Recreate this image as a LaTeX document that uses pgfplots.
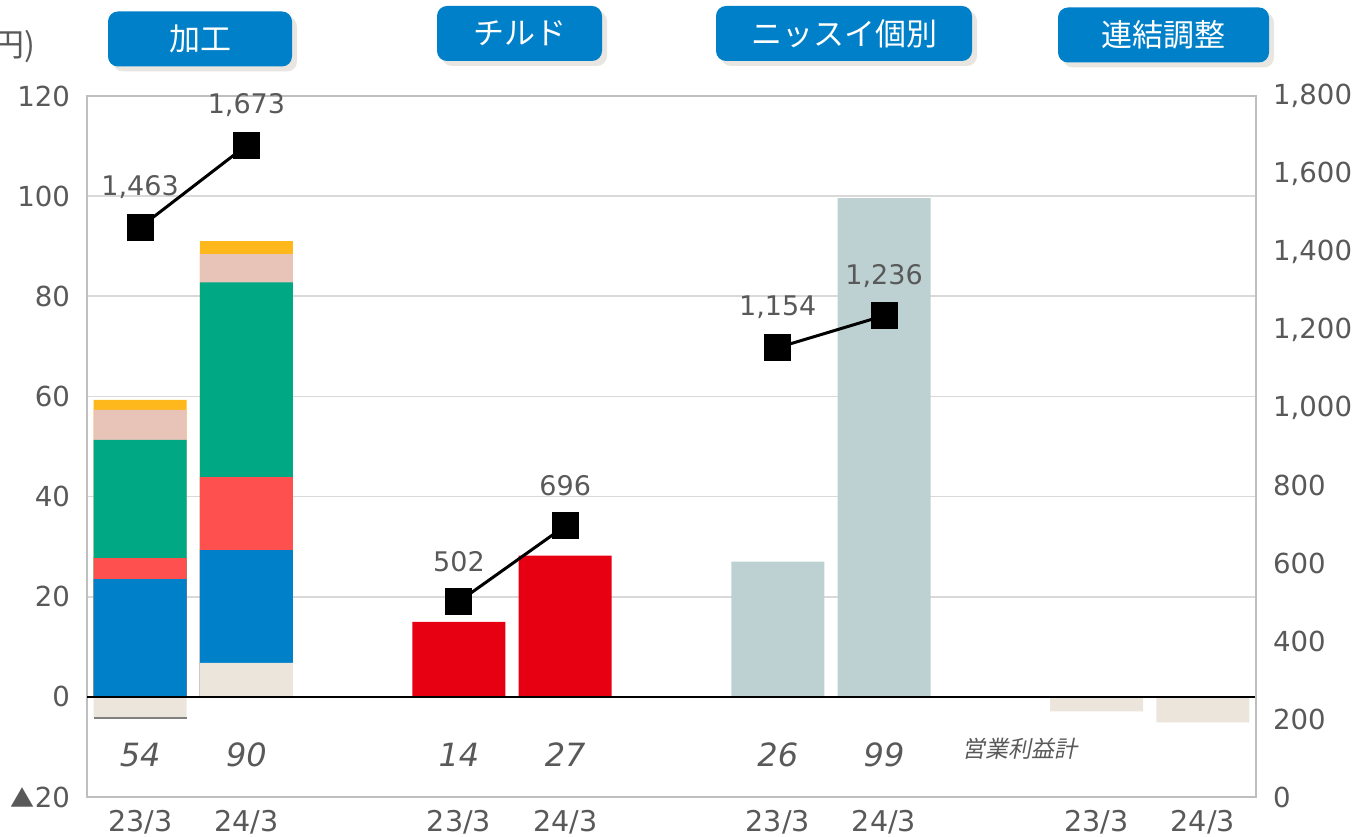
\documentclass[border=0pt]{standalone}
\usepackage{pgfplots}
\pgfplotsset{compat=1.18}
\usepackage{fontspec}
\setmainfont{Noto Sans CJK JP}
\newfontfamily\jpit{Noto Sans CJK JP}[FakeSlant=0.2]
\newfontfamily\jp{Noto Sans CJK JP}
\newfontfamily\num{DejaVu Sans}
\definecolor{tgray}{HTML}{595959}
\definecolor{gridgray}{HTML}{D9D9D9}
\definecolor{framegray}{HTML}{BFBFBF}
\definecolor{hblue}{HTML}{0080C8}
\definecolor{cblue}{HTML}{0080C8}
\definecolor{cred}{HTML}{FF5050}
\definecolor{cgreen}{HTML}{00A884}
\definecolor{cpink}{HTML}{E8C3B8}
\definecolor{cyellow}{HTML}{FFB81C}
\definecolor{cbeige}{HTML}{EBE5DC}
\definecolor{cchill}{HTML}{E60012}
\definecolor{cnissui}{HTML}{BDD1D3}
\definecolor{shadow}{HTML}{E9E6E1}
\begin{document}
\begin{tikzpicture}
\useasboundingbox (0,0) rectangle (677.5pt,418pt);
\begin{axis}[
  at={(43.5pt,19.5pt)}, anchor=south west,
  scale only axis, width=584.5pt, height=350.5pt,
  xmin=-0.5, xmax=10.5, ymin=-20, ymax=120,
  xtick={0,1,3,4,6,7,9,10},
  xticklabels={23/3,24/3,23/3,24/3,23/3,24/3,23/3,24/3},
  ytick={-20,0,20,40,60,80,100,120},
  yticklabels={{\jp\fontsize{12}{14}\selectfont▲}20,0,20,40,60,80,100,120},
  ymajorgrids, grid style={color=gridgray, line width=0.8pt},
  axis line style={color=framegray, line width=0.9pt},
  major tick length=0pt,
  tick label style={font=\num\fontsize{13.8}{16}\selectfont, text=tgray},
  yticklabel style={xshift=-5pt},
  xticklabel style={yshift=-3pt, font=\num\fontsize{14.3}{16}\selectfont},
  ybar, bar width=0.875,
  clip=false,
]
\addplot[bar shift=0pt, fill=cyellow, draw=none] coordinates {(0,59.3) (1,91.0)};
\addplot[bar shift=0pt, fill=cpink, draw=none] coordinates {(0,57.3) (1,88.4)};
\addplot[bar shift=0pt, fill=cgreen, draw=none] coordinates {(0,51.3) (1,82.8)};
\addplot[bar shift=0pt, fill=cred, draw=none] coordinates {(0,27.7) (1,43.9)};
\addplot[bar shift=0pt, fill=cblue, draw=none] coordinates {(0,23.5) (1,29.3)};
\addplot[bar shift=0pt, fill=cbeige, draw=none] coordinates {(0,-4.2) (1,6.8) (9,-2.9) (10,-5.1)};
\addplot[bar shift=0pt, fill=cchill, draw=none] coordinates {(3,15.0) (4,28.2)};
\addplot[bar shift=0pt, fill=cnissui, draw=none] coordinates {(6,27.0) (7,99.6)};
\draw[black, line width=1.1pt] (axis cs:-0.5,0) -- (axis cs:10.5,0);
\draw[gray, line width=0.8pt] (axis cs:-0.4375,-4.2) -- (axis cs:0.4375,-4.2);
\begin{scope}[every node/.style={font=\num\itshape\fontsize{16}{18}\selectfont, text=tgray}]
\node at (axis cs:0,-11.6) {54};
\node at (axis cs:1,-11.6) {90};
\node at (axis cs:3,-11.6) {14};
\node at (axis cs:4,-11.6) {27};
\node at (axis cs:6,-11.6) {26};
\node at (axis cs:7,-11.6) {99};
\end{scope}
\node[font=\jpit\fontsize{11.5}{13}\selectfont, text=tgray] at (axis cs:8.28,-10.3) {営業利益計};
\end{axis}
\begin{axis}[
  at={(43.5pt,19.5pt)}, anchor=south west,
  scale only axis, width=584.5pt, height=350.5pt,
  xmin=-0.5, xmax=10.5, ymin=0, ymax=1800,
  axis x line=none, axis y line*=right,
  axis line style={color=framegray, line width=0.9pt},
  ytick={0,200,400,600,800,1000,1200,1400,1600,1800},
  yticklabels={0,200,400,600,800,{1,000},{1,200},{1,400},{1,600},{1,800}},
  major tick length=0pt,
  tick label style={font=\num\fontsize{13.8}{16}\selectfont, text=tgray},
  yticklabel style={xshift=5pt},
  /pgf/number format/assume math mode=true,
  /pgf/number format/1000 sep={,},
  clip=false,
  nodes near coords,
  nodes near coords style={font=\num\fontsize{13.5}{16}\selectfont, text=tgray, anchor=center, yshift=20pt},
]
\addplot[black, line width=1.5pt, mark=square*, mark size=6pt] coordinates {(0,1463) (1,1673)};
\addplot[black, line width=1.5pt, mark=square*, mark size=6pt] coordinates {(3,502) (4,696)};
\addplot[black, line width=1.5pt, mark=square*, mark size=6pt] coordinates {(6,1154) (7,1236)};
\end{axis}
\begin{scope}[shift={(0,418pt)}, x=0.5pt, y=-0.5pt]
\node[anchor=east, font=\fontsize{16}{18}\selectfont, text=tgray, inner sep=0pt] at (36,46) {(億円)};
\foreach \cx/\cy/\w/\t in {200/39/92/加工, 519.5/33.5/82.5/チルド, 844/33.5/128/ニッスイ個別, 1163.5/35/105.5/連結調整}{
  \fill[shadow, rounded corners=5pt] ([xshift=2.5pt,yshift=-2.5pt]\cx-\w,\cy-27.5) rectangle ([xshift=2.5pt,yshift=-2.5pt]\cx+\w,\cy+27.5);
  \node[fill=hblue, rounded corners=5pt, minimum width=\w pt, minimum height=27.5pt, inner sep=0pt, text=white, font=\fontsize{15.5}{17}\selectfont] at (\cx,\cy) {\t};
}
\end{scope}
\end{tikzpicture}
\end{document}
